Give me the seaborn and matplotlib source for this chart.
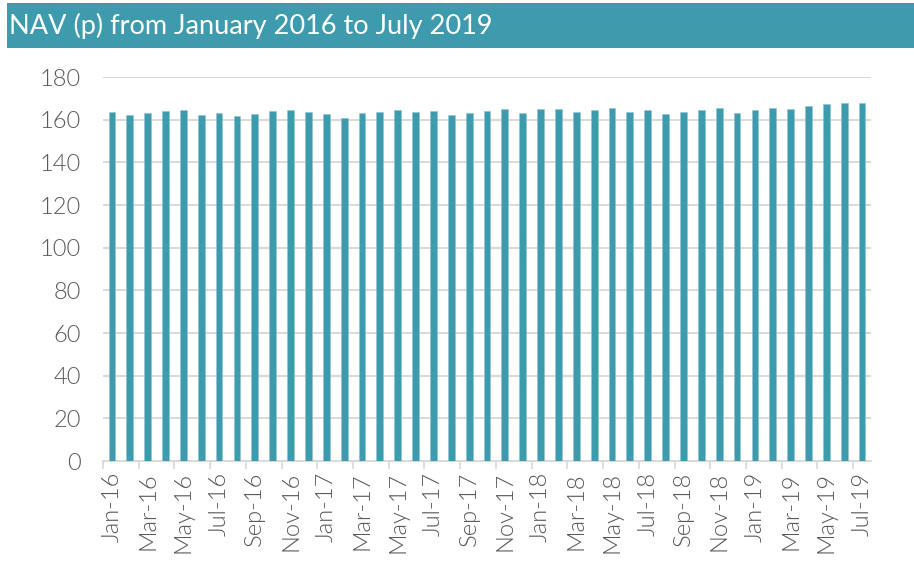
import matplotlib
matplotlib.use("Agg")
import matplotlib.pyplot as plt
from matplotlib.patches import Rectangle
from matplotlib.ticker import FixedLocator
import seaborn as sns
import pandas as pd

# Monthly NAV in pence, January 2016 to July 2019
months = ["Jan-16", "Feb-16", "Mar-16", "Apr-16", "May-16", "Jun-16", "Jul-16", "Aug-16",
          "Sep-16", "Oct-16", "Nov-16", "Dec-16", "Jan-17", "Feb-17", "Mar-17", "Apr-17",
          "May-17", "Jun-17", "Jul-17", "Aug-17", "Sep-17", "Oct-17", "Nov-17", "Dec-17",
          "Jan-18", "Feb-18", "Mar-18", "Apr-18", "May-18", "Jun-18", "Jul-18", "Aug-18",
          "Sep-18", "Oct-18", "Nov-18", "Dec-18", "Jan-19", "Feb-19", "Mar-19", "Apr-19",
          "May-19", "Jun-19", "Jul-19"]
nav = [163.6, 162.2, 163.0, 164.1, 164.7, 162.3, 163.0, 161.7,
       162.8, 163.9, 164.7, 163.6, 162.7, 160.9, 163.0, 163.6,
       164.7, 163.4, 163.9, 162.2, 163.0, 164.2, 165.0, 163.1,
       165.0, 165.2, 163.4, 164.5, 165.5, 163.6, 164.5, 162.7,
       163.8, 164.5, 165.5, 163.0, 164.5, 165.5, 164.8, 166.6,
       167.3, 168.0, 167.8]
y_ticks = [0, 20, 40, 60, 80, 100, 120, 140, 160, 180]
title = "NAV (p) from January 2016 to July 2019"

teal = "#3E9BAE"
grey_text = "#595959"
grid_grey = "#D9D9D9"

sns.set_theme(style="white")
plt.rcParams["font.family"] = ["Lato", "DejaVu Sans"]

df = pd.DataFrame({"month": months, "nav": nav})

fig = plt.figure(figsize=(9.14, 5.72), dpi=100)
ax = fig.add_axes([103 / 914, (572 - 461) / 572, (871 - 103) / 914, (461 - 77) / 572])

sns.barplot(data=df, x="month", y="nav", color=teal, width=0.38,
            saturation=1, edgecolor="#8CC6D2", linewidth=0.4, ax=ax, zorder=3)

ax.set_xlim(-0.5, len(months) - 0.5)
ax.set_ylim(0, 180)
ax.set_yticks(y_ticks)
ax.set_yticklabels([str(v) for v in y_ticks], fontsize=17, color=grey_text,
                   fontweight=300)
ax.yaxis.grid(True, color=grid_grey, linewidth=1.4, zorder=0)
ax.xaxis.grid(False)

# every second month labelled, tick marks on category boundaries
label_pos = list(range(0, len(months), 2))
ax.set_xticks(label_pos)
ax.set_xticklabels([months[i] for i in label_pos], rotation=90, fontsize=17,
                   color=grey_text, fontweight=300)
ax.xaxis.set_minor_locator(FixedLocator([i - 0.5 for i in label_pos]))
ax.tick_params(axis="x", which="major", length=0, pad=8)
ax.tick_params(axis="x", which="minor", length=6, width=1.2, color=grid_grey, bottom=True)
ax.tick_params(axis="y", length=0, pad=16)

ax.set_xlabel("")
ax.set_ylabel("")
for side in ["top", "right", "left"]:
    ax.spines[side].set_visible(False)
ax.spines["bottom"].set_color(grid_grey)
ax.spines["bottom"].set_linewidth(1.4)

# title banner
fig.patches.append(Rectangle((7 / 914, 1 - 48 / 572), 907 / 914, 45 / 572,
                             transform=fig.transFigure, facecolor=teal,
                             edgecolor="none", zorder=0))
fig.text(9 / 914, 1 - 26 / 572, title, color="white", fontsize=19.5,
         va="center", ha="left")

fig.savefig("out.png", dpi=100)
